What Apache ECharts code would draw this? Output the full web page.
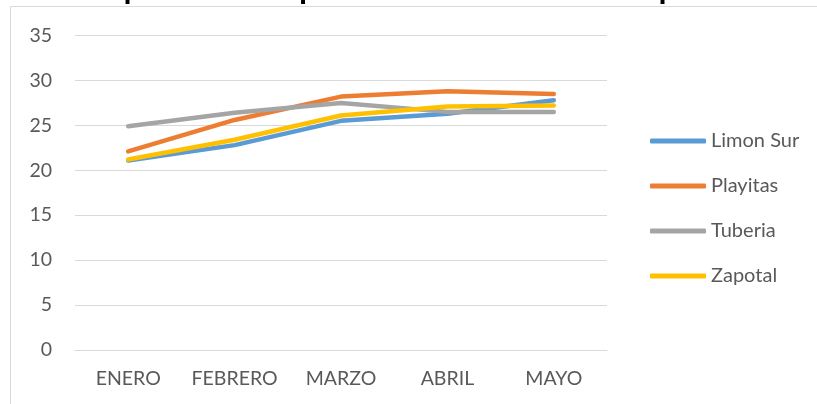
<!DOCTYPE html>
<html>
<head>
<meta charset="utf-8">
<script src="https://cdn.jsdelivr.net/npm/echarts@6/dist/echarts.min.js"></script>
<style>
  html, body { margin: 0; padding: 0; background: #fff; }
  #chart { width: 817px; height: 404px; }
</style>
</head>
<body>
<div id="chart"></div>
<script>
// datos
const meses = ['ENERO', 'FEBRERO', 'MARZO', 'ABRIL', 'MAYO'];
const limonSur = [21.1, 22.8, 25.5, 26.3, 27.8];
const playitas = [22.1, 25.6, 28.2, 28.8, 28.5];
const tuberia = [24.9, 26.4, 27.5, 26.5, 26.5];
const zapotal = [21.2, 23.4, 26.1, 27.1, 27.2];
const yTicks = [0, 5, 10, 15, 20, 25, 30, 35];

const chartDom = document.getElementById('chart');
const myChart = echarts.init(chartDom, null, { renderer: 'canvas' });

const linea = (name, data, color) => ({
    name, type: 'line', data,
    showSymbol: false, symbol: 'none',
    itemStyle: { color },
    lineStyle: { color, width: 4.5, cap: 'round', join: 'round' },
    emphasis: { disabled: true }
});

const option = {
    backgroundColor: '#fff',
    animation: false,
    textStyle: { fontFamily: 'Lato' },
    title: {
        text: 'Comportamiento promedio mensual de temperatura',
        left: 54, top: -30,
        textStyle: { fontSize: 29, fontWeight: 'bold', color: '#000', fontFamily: 'Liberation Sans' }
    },
    graphic: [{
        type: 'rect', z: -10, silent: true,
        shape: { x: 10.5, y: 6.5, width: 1000, height: 1000 },
        style: { fill: 'none', stroke: '#d9d9d9', lineWidth: 1 }
    }],
    grid: { left: 75, right: 210, top: 35.5, bottom: 54, containLabel: false },
    legend: {
        orient: 'vertical', left: 645, top: 126,
        itemWidth: 56, itemHeight: 5, itemGap: 25,
        icon: 'roundRect',
        textStyle: { fontSize: 20, color: '#595959', fontFamily: 'Lato' },
        data: ['Limon Sur', 'Playitas', 'Tuberia', 'Zapotal']
    },
    xAxis: {
        type: 'category', data: meses, boundaryGap: true,
        axisLine: { show: true, lineStyle: { color: '#d9d9d9' } },
        axisTick: { show: false },
        axisLabel: { color: '#595959', fontSize: 19.5, margin: 19, interval: 0, hideOverlap: false }
    },
    yAxis: {
        type: 'value', min: yTicks[0], max: yTicks[yTicks.length - 1], interval: 5,
        axisLine: { show: false }, axisTick: { show: false },
        axisLabel: { color: '#595959', fontSize: 19.5, margin: 23 },
        splitLine: { lineStyle: { color: '#d9d9d9', width: 1 } }
    },
    series: [
        linea('Limon Sur', limonSur, '#5B9BD5'),
        linea('Playitas', playitas, '#ED7D31'),
        linea('Tuberia', tuberia, '#A5A5A5'),
        linea('Zapotal', zapotal, '#FFC000')
    ]
};
myChart.setOption(option);
</script>
</body>
</html>
